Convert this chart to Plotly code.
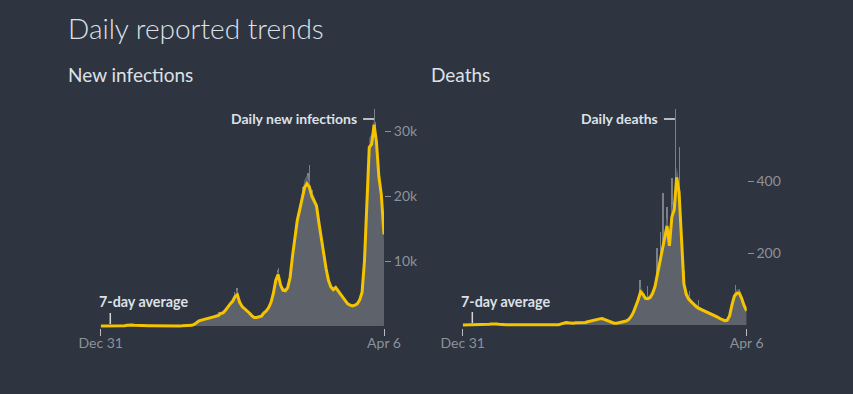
import pandas as pd
import plotly.graph_objects as go
from plotly.subplots import make_subplots

# ---------------- data ----------------
start_date = "2019-12-31"
end_date = "2022-04-06"
n_weeks = 118

# 7-day average of new infections (thousands), weekly samples + final day
inf_avg_k = [
    0, 0, 0, 0, 0, 0, 0, 0, 0, 0.01,
    0.05, 0.12, 0.17, 0.15, 0.1, 0.07, 0.05, 0.04, 0.03, 0.02,
    0.02, 0.02, 0.01, 0.01, 0.01, 0.01, 0.01, 0.01, 0.01, 0.01,
    0.01, 0.01, 0.01, 0.01, 0.02, 0.02, 0.05, 0.06,
    0.1, 0.25, 0.5, 0.8, 0.9, 1.0, 1.1, 1.2, 1.3, 1.4,
    1.5, 1.6, 1.9, 2.0, 2.4, 3.0, 3.4, 3.8, 4.5, 4.8,
    3.6, 3.0, 2.7, 2.3, 2.0, 1.6, 1.3, 1.3, 1.35, 1.5,
    2.0, 2.3, 2.8, 3.6, 5.0, 7.0, 7.9, 6.3, 5.5, 5.4,
    5.9, 7.5, 10.8, 14.0, 16.3, 17.9, 19.8, 21.3, 21.9, 21.4,
    20.0, 19.3, 18.5, 15.9, 13.3, 11.0, 8.8, 7.0, 6.0, 5.6,
    5.9, 5.4, 4.9, 4.4, 3.8, 3.4, 3.2, 3.1, 3.2, 3.4,
    4.0, 5.2, 10.0, 19.5, 27.5, 28.0, 31.0, 28.3, 23.0, 20.3,
    14.1,
]
# daily reported new infections (thousands), same sampling
inf_daily_k = [
    0, 0, 0, 0, 0, 0, 0, 0, 0, 0.01,
    0.06, 0.14, 0.19, 0.17, 0.11, 0.08, 0.05, 0.04, 0.03, 0.02,
    0.02, 0.02, 0.01, 0.01, 0.01, 0.01, 0.01, 0.01, 0.01, 0.01,
    0.01, 0.01, 0.01, 0.01, 0.02, 0.03, 0.06, 0.07,
    0.15, 0.3, 0.6, 0.9, 1.0, 1.1, 1.3, 1.4, 1.5, 1.6,
    1.8, 1.9, 2.1, 2.3, 2.6, 3.2, 3.6, 4.0, 4.9, 5.5,
    3.9, 3.2, 2.9, 2.4, 2.1, 1.7, 1.4, 1.4, 1.5, 1.7,
    2.2, 2.6, 3.1, 4.0, 5.5, 7.6, 8.5, 6.8, 5.9, 5.8,
    6.3, 8.0, 11.5, 14.8, 17.0, 18.6, 20.6, 22.5, 23.2, 22.3,
    20.8, 20.1, 19.0, 16.5, 13.8, 11.4, 9.2, 7.4, 6.4, 6.0,
    6.3, 5.8, 5.2, 4.7, 4.1, 3.7, 3.5, 3.3, 3.4, 3.6,
    4.3, 5.6, 11.0, 21.0, 29.0, 29.5, 32.0, 29.5, 24.0, 21.0,
    13.0,
]
# noticeable single-day spikes in daily new infections (thousands)
inf_spike_dates = ["2020-12-10", "2021-01-24", "2021-01-31", "2021-05-29", "2021-06-01",
                   "2021-07-29", "2021-08-12", "2021-08-21", "2021-08-26", "2021-08-31",
                   "2021-09-08", "2022-02-24", "2022-03-01", "2022-03-08", "2022-03-12"]
inf_spike_k = [2.2, 5.3, 5.9, 8.6, 9.0, 17.8, 21.5, 22.5, 23.6, 24.8, 21.0, 27.0, 29.4, 33.4, 31.5]

# 7-day average of deaths, weekly samples + final day
death_avg = [
    0, 0, 0, 0, 0, 0, 0, 0, 0, 0,
    1, 2, 3, 4, 3, 2, 1, 1, 0.5, 0.5,
    0.5, 0.5, 0.5, 0.5, 0.5, 0.5, 0.5, 0.5, 0.5, 0.5,
    0.5, 0.5, 0.5, 0.5, 0.5, 0.5, 0.5, 0.5, 0.8, 1,
    1, 3, 5, 7, 6, 5, 5, 6, 6, 5,
    6, 7, 9, 11, 12, 13, 15, 17, 18, 15,
    12, 10, 7, 5, 5, 6, 7, 8, 11, 15,
    23, 35, 50, 70, 92, 85, 74, 73, 76, 88,
    107, 140, 168, 205, 240, 275, 220, 300, 320, 410,
    370, 250, 115, 85, 72, 65, 57, 52, 47, 44,
    40, 37, 35, 32, 30, 27, 22, 18, 15, 12,
    13, 25, 55, 80, 88, 89, 75, 55,
    39,
]
death_daily = [
    0, 0, 0, 0, 0, 0, 0, 0, 0, 0,
    1, 3, 4, 5, 4, 2, 1, 1, 1, 1,
    0.5, 1, 0.5, 1, 0.5, 1, 0.5, 1, 0.5, 1,
    0.5, 1, 0.5, 1, 0.5, 1, 0.5, 1, 1, 2,
    2, 4, 6, 9, 8, 6, 6, 8, 7, 6,
    7, 9, 11, 13, 14, 15, 18, 20, 21, 17,
    14, 12, 8, 6, 6, 7, 8, 9, 13, 17,
    27, 40, 58, 80, 105, 95, 80, 80, 84, 96,
    118, 155, 185, 225, 265, 300, 245, 330, 345, 440,
    400, 270, 125, 95, 82, 72, 63, 58, 52, 49,
    45, 42, 40, 36, 34, 30, 25, 21, 17, 14,
    15, 29, 62, 90, 98, 100, 84, 62,
    42,
]
death_spike_dates = ["2021-05-30", "2021-06-20", "2021-07-18", "2021-07-28", "2021-08-05",
                     "2021-08-16", "2021-08-31", "2021-09-09", "2021-09-22", "2021-10-05",
                     "2021-10-20", "2021-11-15", "2022-03-03", "2022-03-15"]
death_spike_vals = [125, 110, 215, 260, 367, 328, 408, 600, 495, 150, 95, 70, 112, 100]

inf_ticks = [10000, 20000, 30000]
inf_ticktext = ["10k", "20k", "30k"]
death_ticks = [200, 400]
death_ticktext = ["200", "400"]
x_ticktext = ["Dec 31", "Apr 6"]

# ---------------- build ----------------
dates = list(pd.date_range(start_date, periods=n_weeks, freq="7D")) + [pd.Timestamp(end_date)]
inf_avg = [v * 1000 for v in inf_avg_k]
inf_daily = [v * 1000 for v in inf_daily_k]
inf_spikes = [v * 1000 for v in inf_spike_k]

W, H = 853, 394
BG = "#2e3440"
YELLOW = "#f5c400"
FILL = "#5e636b"
SPIKE = "#7b8088"
TICK = "#8d929a"
TEXT = "#dde1e7"
FONT = "Lato"

def px(x):
    return x / W

def py(y):
    return 1 - y / H

fig = make_subplots(rows=1, cols=2)

for col, daily, avg, sd, sv in [
    (1, inf_daily, inf_avg, inf_spike_dates, inf_spikes),
    (2, death_daily, death_avg, death_spike_dates, death_spike_vals),
]:
    fig.add_trace(go.Scatter(x=dates, y=daily, mode="lines", line=dict(width=0, color=FILL),
                             fill="tozeroy", fillcolor=FILL, showlegend=False), row=1, col=col)
    fig.add_trace(go.Bar(x=pd.to_datetime(sd), y=sv, width=1.3 * 86400000,
                         marker=dict(color=SPIKE, line=dict(width=0)), showlegend=False), row=1, col=col)
    fig.add_trace(go.Scatter(x=dates, y=avg, mode="lines", line=dict(width=3, color=YELLOW),
                             showlegend=False), row=1, col=col)

ydom = [py(328), py(107.7)]
xcommon = dict(range=[dates[0], dates[-1]], tickvals=[dates[0], dates[-1]], ticktext=x_ticktext,
               ticks="outside", ticklen=7, tickwidth=1, tickcolor="#b8bcc2", showgrid=False,
               zeroline=False, showline=False, automargin=False, ticklabelstandoff=-5,
               tickfont=dict(size=14, color=TICK, family=FONT))
fig.update_xaxes(domain=[px(100.7), px(384)], row=1, col=1, **xcommon)
fig.update_xaxes(domain=[px(462.7), px(746.7)], row=1, col=2, **xcommon)

ycommon = dict(side="right", ticks="outside", ticklen=6, tickwidth=1, tickcolor=TICK, showgrid=False,
               zeroline=False, showline=False, automargin=False,
               tickfont=dict(size=14, color=TICK, family=FONT))
fig.update_yaxes(domain=ydom, range=[-310, 33600], tickvals=inf_ticks, ticktext=inf_ticktext,
                 row=1, col=1, **ycommon)
fig.update_yaxes(domain=ydom, range=[-8.3, 603.6], tickvals=death_ticks, ticktext=death_ticktext,
                 row=1, col=2, **ycommon)

annotations = [
    dict(text="Daily reported trends", x=px(66), y=py(28), xref="paper", yref="paper",
         xanchor="left", yanchor="middle", showarrow=False,
         font=dict(size=28, color=TEXT, family=FONT, weight=300)),
    dict(text="New infections", x=px(66), y=py(75), xref="paper", yref="paper",
         xanchor="left", yanchor="middle", showarrow=False,
         font=dict(size=19, color=TEXT, family=FONT)),
    dict(text="Deaths", x=px(429), y=py(75), xref="paper", yref="paper",
         xanchor="left", yanchor="middle", showarrow=False,
         font=dict(size=19, color=TEXT, family=FONT)),
]
shapes = []

for xa, ya, label, sd, sv in [
    ("x", "y", "Daily new infections", inf_spike_dates, inf_spikes),
    ("x2", "y2", "Daily deaths", death_spike_dates, death_spike_vals),
]:
    imax = max(range(len(sv)), key=lambda i: sv[i])
    mx, my = pd.Timestamp(sd[imax]), sv[imax]
    annotations.append(dict(text=label, x=mx, y=my, xref=xa, yref=ya, xanchor="right",
                            yanchor="middle", xshift=-15, yshift=-9, showarrow=False,
                            font=dict(size=14, color=TEXT, family=FONT, weight="bold")))
    shapes.append(dict(type="line", xref=xa, yref=ya, xsizemode="pixel", ysizemode="pixel",
                       xanchor=mx, yanchor=my, x0=-11, x1=0, y0=-10, y1=-10,
                       line=dict(color="#b8bcc2", width=2)))
    # 7-day average marker
    annotations.append(dict(text="7-day average", x=dates[4], y=0, xref=xa, yref=ya,
                            xanchor="left", yanchor="middle", xshift=-13, yshift=24,
                            showarrow=False,
                            font=dict(size=14.3, color=TEXT, family=FONT, weight="bold")))
    shapes.append(dict(type="line", xref=xa, yref=ya, ysizemode="pixel", yanchor=0,
                       x0=dates[4], x1=dates[4], y0=2, y1=13,
                       line=dict(color="#d0d3d8", width=1.5)))

fig.update_layout(
    width=W, height=H, margin=dict(l=0, r=0, t=0, b=0, pad=0, autoexpand=False),
    paper_bgcolor=BG, plot_bgcolor=BG, bargap=0, barmode="overlay",
    font=dict(family=FONT, color=TEXT),
    annotations=annotations, shapes=shapes, showlegend=False,
)

fig.write_html("out.html", config={"displayModeBar": False},
               post_script="document.body.style.margin='0';document.body.style.overflow='hidden';")
